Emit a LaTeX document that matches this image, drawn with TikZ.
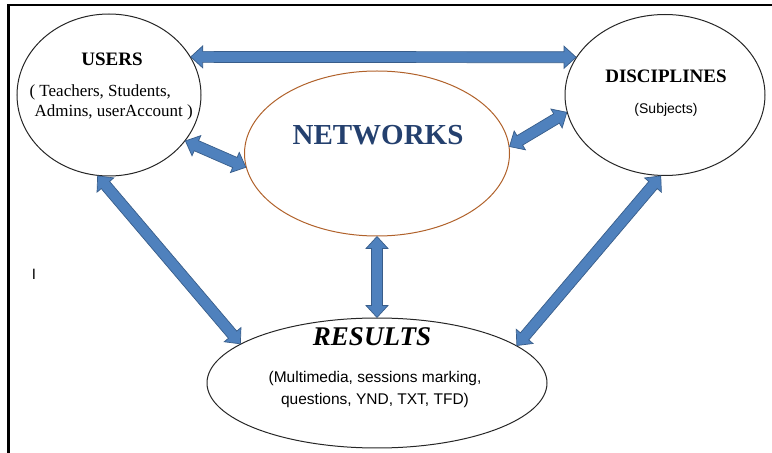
\documentclass[tikz,border=0pt]{standalone}
\usepackage{fontspec}
\setmainfont{Liberation Serif}
\setsansfont{Liberation Sans}
\usetikzlibrary{shapes.geometric, calc, positioning}
\definecolor{arrowblue}{HTML}{4F81BD}
\definecolor{arrowedge}{HTML}{385D8A}
\definecolor{netbrown}{HTML}{B0612A}
\definecolor{netblue}{HTML}{24406E}
\tikzset{
    x=1pt, y=1pt, % one unit is one pixel of the drawing
    bubble/.style={ellipse, draw=black!85, line width=1pt, inner sep=0pt}, % the ellipses
    title/.style={font=\bfseries\fontsize{19}{22}\selectfont}, % ellipse headings
    blockarrow/.style={fill=arrowblue, draw=arrowedge, line width=0.7pt, line join=miter}, % fat two-headed arrows
}
% a two-headed block arrow between two points
\newcommand{\shaftw}{5.5pt}
\newcommand{\headw}{11pt}
\newcommand{\headl}{12pt}
\newcommand{\dblarrow}[2]{%
  \draw[blockarrow] (#1)
    -- ($(#1)!\headl!(#2)!\headw!90:(#2)$)
    -- ($(#1)!\headl!(#2)!\shaftw!90:(#2)$)
    -- ($(#2)!\headl!(#1)!\shaftw!-90:(#1)$)
    -- ($(#2)!\headl!(#1)!\headw!-90:(#1)$)
    -- (#2)
    -- ($(#2)!\headl!(#1)!\headw!90:(#1)$)
    -- ($(#2)!\headl!(#1)!\shaftw!90:(#1)$)
    -- ($(#1)!\headl!(#2)!\shaftw!-90:(#2)$)
    -- ($(#1)!\headl!(#2)!\headw!-90:(#2)$)
    -- cycle;}

\begin{document}
\begin{tikzpicture}
    \useasboundingbox (0,0) rectangle (772,453);
    % frame
    \draw[line width=2.5pt] (8.5,0) -- (8.5,448) -- (772,448);

    % ellipses
    \node[bubble, minimum width=184pt, minimum height=162pt] (users) at (109,358) {};
    \node[bubble, draw=netbrown, minimum width=265pt, minimum height=165pt] (net) at (377,299.5) {};
    \node[bubble, minimum width=200pt, minimum height=161pt] (disc) at (665,358) {};
    \node[bubble, minimum width=340pt, minimum height=130pt] (res) at (377,70) {};

    % texts
    \node[title] (userstitle) at (112,394) {USERS};
    \node[anchor=west, align=left, font=\fontsize{17}{20}\selectfont] (userslist) at (26,351)
        {( Teachers, Students,\\\hspace*{5pt}Admins, userAccount )};
    \node[title] (disctitle) at (666,377) {DISCIPLINES};
    \node[font=\sffamily\fontsize{14}{16}\selectfont] (disclist) at (666,343) {(Subjects)};
    \node[font=\bfseries\fontsize{29}{32}\selectfont, text=netblue] (nettitle) at (378,318) {NETWORKS};
    \node[font=\bfseries\itshape\fontsize{27}{30}\selectfont] (restitle) at (372,116) {RESULTS};
    \node[align=center, font=\sffamily\fontsize{15.5}{22}\selectfont] (reslist) at (375,64)
        {(Multimedia, sessions marking,\\questions, YND, TXT, TFD)};
    \node[font=\sffamily\fontsize{15}{18}\selectfont] (cursor) at (34,179) {I};

    % connectors
    \dblarrow{users.25}{disc.157}
    \dblarrow{users.329}{net.186}
    \dblarrow{net.3}{disc.190}
    \dblarrow{net.-90}{res.90}
    \dblarrow{users.262}{res.164}
    \dblarrow{disc.267}{res.15}
\end{tikzpicture}
\end{document}
